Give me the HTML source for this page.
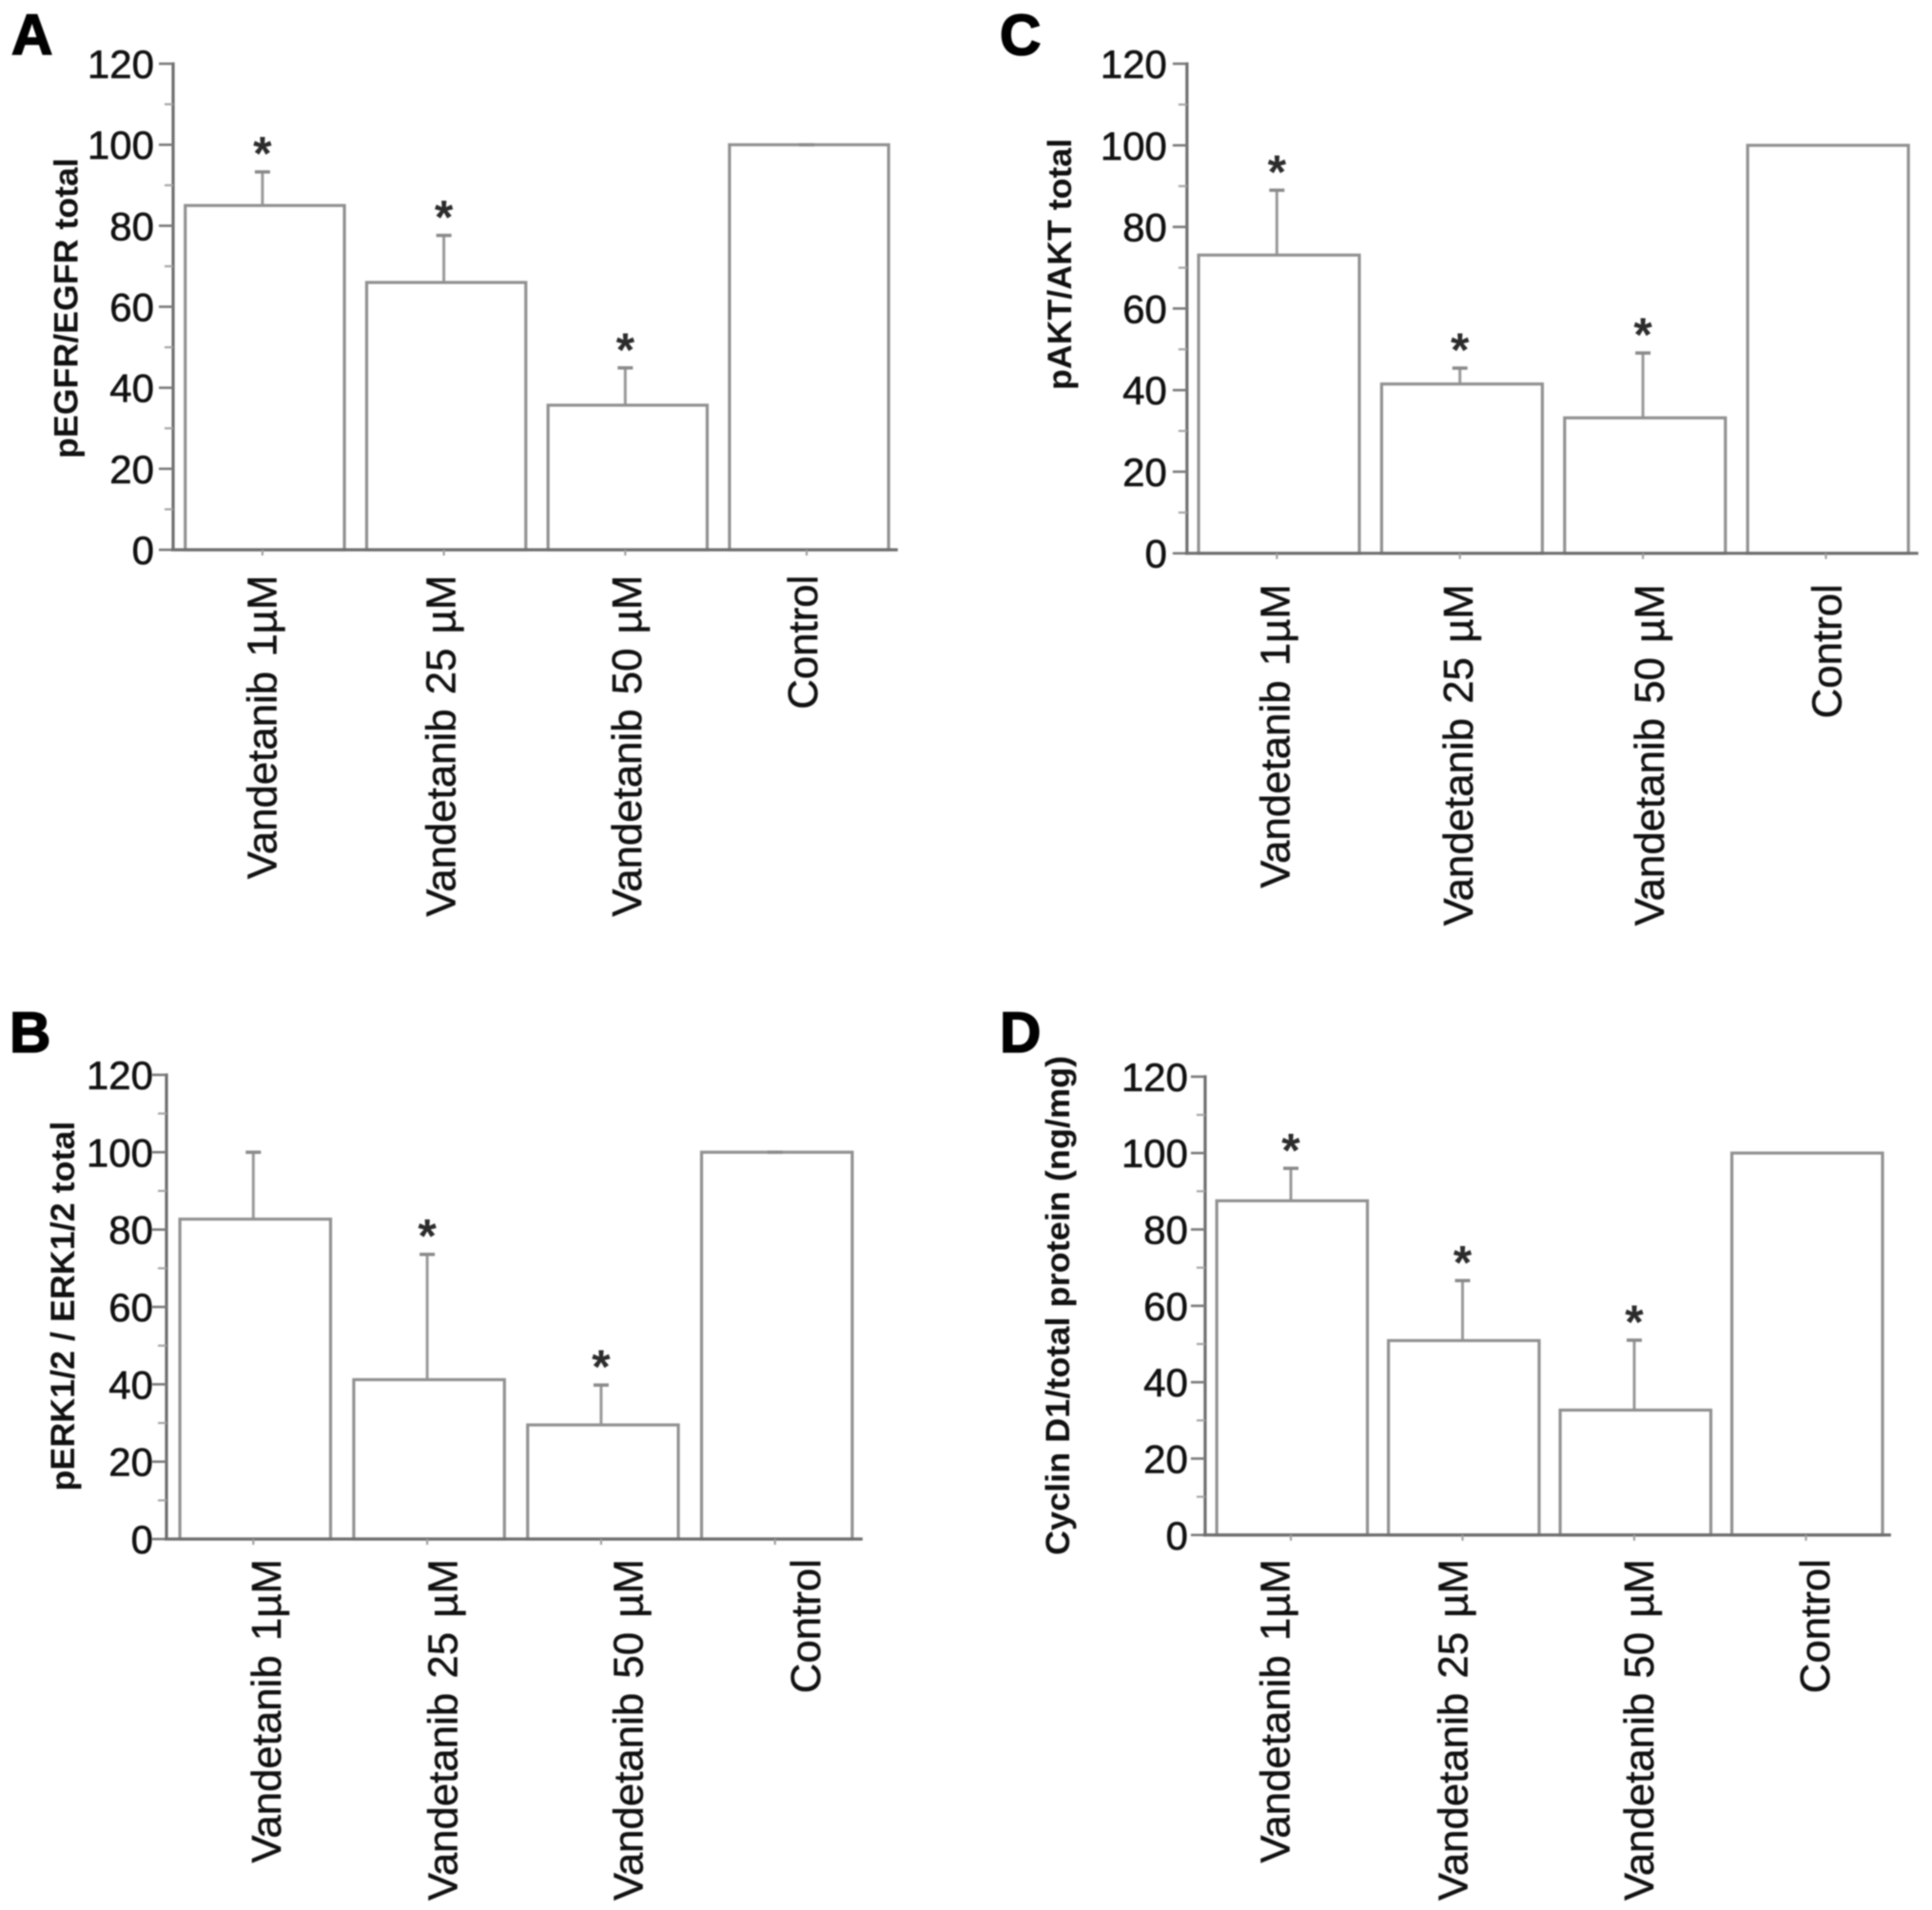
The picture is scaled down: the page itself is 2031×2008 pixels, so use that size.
<!DOCTYPE html>
<html lang="en">
<head>
<meta charset="utf-8">
<title>Vandetanib bar charts</title>
<style>
html,body{margin:0;padding:0;background:#fff;}
#figure{display:block;width:2031px;height:2008px;filter:blur(0.7px);font-family:"Liberation Sans",sans-serif;}
text{white-space:pre;}
</style>
</head>
<body>
<svg id="figure" xmlns="http://www.w3.org/2000/svg" width="2031" height="2008" viewBox="0 0 2031 2008"></svg>
<script>
const categories = ['Vandetanib 1µM', 'Vandetanib 25 µM', 'Vandetanib 50 µM', 'Control'];
const tickLabels = [0, 20, 40, 60, 80, 100, 120];
const minorTicks = [10, 30, 50, 70, 90, 110];

const valuesA = [85, 66, 35.7, 100];
const errorsA = [93.3, 77.6, 44.9, 100];
const starsA = [true, true, true, false];

const valuesB = [82.7, 41.2, 29.5, 100];
const errorsB = [100, 73.6, 39.8, 100];
const starsB = [false, true, true, false];

const valuesC = [73.1, 41.5, 33.2, 100];
const errorsC = [89, 45.4, 49.1, 100];
const starsC = [true, true, true, false];

const valuesD = [87.5, 50.9, 32.7, 100];
const errorsD = [96, 66.6, 51, 100];
const starsD = [true, true, true, false];

const panels = [
  {id:'a', letter:'A', lx:12, ly:57, title:'pEGFR/EGFR total', tx:81.7, ty:482, tl:316,
   values:valuesA, errors:errorsA, stars:starsA,
   axisX:182, y0:578, y120:67, xEnd:943.8, first:275.9, step:190.7, barW:167.3, barDx:2.5, tickGap:20,
   labelTop:604.6, labelDx:[14.6,12,16.6,11], showTopCap:true},
  {id:'c', letter:'C', lx:1051, ly:57.5, title:'pAKT/AKT total', tx:1125.8, ty:410, tl:264.4,
   values:valuesC, errors:errorsC, stars:starsC,
   axisX:1247.8, y0:581.7, y120:67, xEnd:2016.6, first:1342.3, step:192.4, barW:169, barDx:2.2, tickGap:21,
   labelTop:614.2, labelDx:[13.4,13.4,21.7,16], showTopCap:false},
  {id:'b', letter:'B', lx:10, ly:1106, title:'pERK1/2 / ERK1/2 total', tx:78, ty:1567.5, tl:388.8,
   values:valuesB, errors:errorsB, stars:starsB,
   axisX:175, y0:1618, y120:1130, xEnd:906.8, first:266.3, step:182.8, barW:158.4, barDx:2, tickGap:14,
   labelTop:1639, labelDx:[28.7,31.3,43.4,47.3], showTopCap:true},
  {id:'d', letter:'D', lx:1051, ly:1106, title:'Cyclin D1/total protein (ng/mg)', tx:1123.9, ty:1635, tl:525,
   values:valuesD, errors:errorsD, stars:starsD,
   axisX:1266.9, y0:1613.75, y120:1131.9, xEnd:1987.9, first:1357, step:180.5, barW:158.4, barDx:1.3, tickGap:18,
   labelTop:1639, labelDx:[-1.3,5,19.8,24.3], showTopCap:false}
];

const NS = 'http://www.w3.org/2000/svg';
const svg = document.getElementById('figure');

function make(parent, tag, attrs, text) {
  const el = document.createElementNS(NS, tag);
  for (const k in attrs) el.setAttribute(k, attrs[k]);
  if (text !== undefined) el.textContent = text;
  parent.appendChild(el);
  return el;
}

function slug(s) {
  return String(s).toLowerCase().replace(/µ/g, 'u').replace(/[^a-z0-9]+/g, '-').replace(/^-|-$/g, '');
}

panels.forEach(function (p) {
  const yScale = function (v) { return p.y0 - v * (p.y0 - p.y120) / 120; };
  const xScale = function (i) { return p.first + i * p.step; };

  const g = make(svg, 'g', {});
  
  

  const letter = make(g, 'text', {x:p.lx, y:p.ly, 'font-size':60, 'font-weight':'bold', fill:'#000', stroke:'#000', 'stroke-width':1.6}, p.letter);
  
  

  const title = make(g, 'text', {
    transform:'translate(' + p.tx + ',' + p.ty + ') rotate(-90)',
    'font-size':35, 'font-weight':'bold', fill:'#111',
    textLength:p.tl, lengthAdjust:'spacingAndGlyphs'
  }, p.title);
  
  

  // error bar stems
  categories.forEach(function (c, i) {
    const x = xScale(i);
    if (p.errors[i] > p.values[i]) {
      const stem = make(g, 'line', {x1:x, x2:x, y1:yScale(p.values[i]), y2:yScale(p.errors[i]), stroke:'#999', 'stroke-width':3});
      
      
    }
  });

  // bars
  categories.forEach(function (c, i) {
    const cx = xScale(i) + p.barDx;
    const bar = make(g, 'rect', {
      x:cx - p.barW / 2, y:yScale(p.values[i]), width:p.barW,
      height:p.y0 - yScale(p.values[i]),
      fill:'#fff', 'fill-opacity':0, stroke:'#919191', 'stroke-width':3.2
    });
    
    
  });

  // error caps
  categories.forEach(function (c, i) {
    const x = xScale(i);
    if (p.errors[i] > p.values[i] || p.showTopCap) {
      const cap = make(g, 'line', {x1:x - 8, x2:x + 8, y1:yScale(p.errors[i]), y2:yScale(p.errors[i]), stroke:'#8a8a8a', 'stroke-width':3.5});
      
      
    }
  });

  // stars
  categories.forEach(function (c, i) {
    if (p.stars[i]) {
      const star = make(g, 'text', {
        x:xScale(i), y:yScale(p.errors[i]) - 2, 'text-anchor':'middle',
        'font-size':50, 'font-weight':'bold', fill:'#2c2c2c'
      }, '*');
      
      
    }
  });

  // y axis
  const yAxis = make(g, 'line', {x1:p.axisX, x2:p.axisX, y1:p.y120 - 1.5, y2:p.y0 + 1.5, stroke:'#6e6e6e', 'stroke-width':3.2});
  
  

  tickLabels.forEach(function (v) {
    const t = make(g, 'line', {x1:p.axisX - 15, x2:p.axisX, y1:yScale(v), y2:yScale(v), stroke:'#7a7a7a', 'stroke-width':2.6});
    
    
    const l = make(g, 'text', {x:p.axisX - p.tickGap, y:yScale(v) + 15, 'text-anchor':'end', 'font-size':42, fill:'#111', stroke:'#111', 'stroke-width':0.6}, String(v));
    
    
  });
  minorTicks.forEach(function (v) {
    const t = make(g, 'line', {x1:p.axisX - 9, x2:p.axisX, y1:yScale(v), y2:yScale(v), stroke:'#a5a5a5', 'stroke-width':2.2});
    
    
  });

  // x axis
  const xAxis = make(g, 'line', {x1:p.axisX - 2, x2:p.xEnd, y1:p.y0, y2:p.y0, stroke:'#6e6e6e', 'stroke-width':3.2});
  
  

  categories.forEach(function (c, i) {
    const x = xScale(i);
    const t = make(g, 'line', {x1:x, x2:x, y1:p.y0, y2:p.y0 + 6, stroke:'#a0a0a0', 'stroke-width':2.2});
    
    
    const l = make(g, 'text', {
      transform:'translate(' + (x + p.labelDx[i]) + ',' + p.labelTop + ') rotate(-90)',
      'text-anchor':'end', 'font-size':43.8, 'word-spacing':3, fill:'#111', stroke:'#111', 'stroke-width':0.5
    }, c);
    
    
  });
});
</script>
</body>
</html>
